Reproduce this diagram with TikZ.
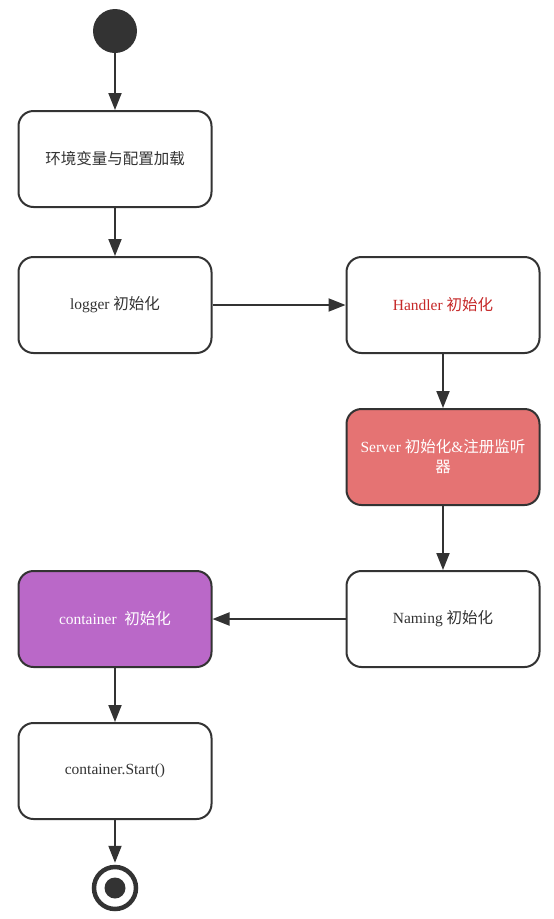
\documentclass[tikz,border=0pt]{standalone}
\usepackage{fontspec}
\setmainfont{Liberation Serif}
\newfontfamily\cjk{Noto Sans CJK SC}
\usetikzlibrary{arrows.meta}
\definecolor{edgegray}{HTML}{333333}
\definecolor{serverred}{HTML}{E57373}
\definecolor{containerpurple}{HTML}{BA68C8}
\definecolor{handlerred}{HTML}{C62828}

\begin{document}
\begin{tikzpicture}[x=1pt, y=-1pt,
  state/.style={draw=edgegray, line width=2pt, rounded corners=15pt,
    fill=white, text=edgegray, minimum width=193pt, minimum height=96pt,
    font=\fontsize{15.5}{20}\selectfont, align=center, inner sep=2pt},
  flow/.style={draw=edgegray, line width=2pt,
    -{Triangle[length=17pt,width=13pt]}},
]
\fill[white] (0,0) rectangle (554,919);
\useasboundingbox (0,0) rectangle (554,919);

% --- Start ---
\node[circle, fill=edgegray, minimum size=44pt, inner sep=0pt] (start) at (115,31) {};

% --- Left column ---
\node[state] (env) at (115,159) {{\cjk 环境变量与配置加载}};
\node[state] (logger) at (115,305) {logger {\cjk 初始化}};

% --- Right column ---
\node[state, text=handlerred] (handler) at (443,305) {Handler {\cjk 初始化}};
\node[state, fill=serverred, text=white] (server) at (443,457)
  {Server {\cjk 初始化}\&{\cjk 注册监听}\\{\cjk 器}};
\node[state] (naming) at (443,619) {Naming {\cjk 初始化}};

% --- Back to the left ---
\node[state, fill=containerpurple, text=white] (container) at (115,619)
  {container\ \ {\cjk 初始化}};
\node[state] (launch) at (115,771) {container.Start()};

% --- End ---
\node[circle, draw=edgegray, line width=4.5pt, minimum size=42pt, inner sep=0pt] (stop) at (115,888) {};
\node[circle, fill=edgegray, minimum size=21pt, inner sep=0pt] (stopdot) at (stop) {};

% Connectors
\draw[flow] (start) -- (env);
\draw[flow] (env) -- (logger);
\draw[flow] (logger) -- (handler);
\draw[flow] (handler) -- (server);
\draw[flow] (server) -- (naming);
\draw[flow] (naming) -- (container);
\draw[flow] (container) -- (launch);
\draw[flow, shorten >=2pt] (launch) -- (stop);
\end{tikzpicture}
\end{document}
